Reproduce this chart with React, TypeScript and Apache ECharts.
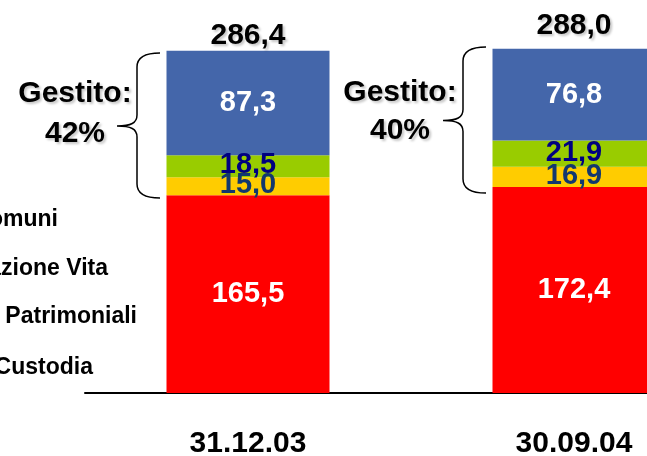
import React, { useEffect, useRef } from "react";
import * as echarts from "echarts";

// ---- data ----
const categories = ["31.12.03", "30.09.04"];
const custodia = [165.5, 172.4];
const gestioniPatrimoniali = [15.0, 16.9];
const assicurazioneVita = [18.5, 21.9];
const fondiComuni = [87.3, 76.8];
const totals = [286.4, 288.0];
const legendNames = ["Fondi Comuni", "Assicurazione Vita", "Gestioni Patrimoniali", "Custodia"];
const gestitoLabel = "Gestito:";
const gestitoPercent = ["42%", "40%"];

const FONT = "'Liberation Sans', Arial, Helvetica, sans-serif";
const fmt = (v: number) => v.toFixed(1).replace(".", ",");

const BRACE =
  "M 43 0 C 28 0 20 4 20 14 L 20 62 C 20 70 14 73 0 73 C 14 73 20 76 20 84 L 20 131 C 20 141 28 145 43 145";
let registered = false;
function registerBrace() {
  if (registered) return;
  echarts.graphic.registerShape("brace", echarts.graphic.extendPath(BRACE, {}) as any);
  registered = true;
}

const shadow = {
  textShadowColor: "rgba(0,0,0,0.22)",
  textShadowBlur: 2,
  textShadowOffsetX: 2,
  textShadowOffsetY: 2,
};

function barSeries(name: string, data: number[], color: string, labelColor: string, offset: number[]) {
  return {
    type: "bar",
    name,
    stack: "total",
    data,
    barWidth: "50%",
    itemStyle: { color },
    silent: true,
    label: {
      show: true,
      position: "inside",
      color: labelColor,
      fontSize: 29,
      fontWeight: "bold",
      fontFamily: FONT,
      offset,
      formatter: (p: any) => fmt(p.value),
    },
  };
}

export default function App() {
  const ref = useRef<HTMLDivElement>(null);
  useEffect(() => {
    if (!ref.current) return;
    registerBrace();
    const chart = echarts.init(ref.current, undefined, { renderer: "svg" });

    const gestitoText = (x: number, y1: number, y2: number, pct: string) => [
      {
        type: "text",
        x,
        y: y1,
        style: { text: gestitoLabel, align: "center", verticalAlign: "middle", fill: "#000", font: `bold 30px ${FONT}`, ...shadow },
      },
      {
        type: "text",
        x,
        y: y2,
        style: { text: pct, align: "center", verticalAlign: "middle", fill: "#000", font: `bold 30px ${FONT}`, ...shadow },
      },
    ];

    const legendRight = [58, 108, 137, 93];
    const legendY = [218, 267, 315, 366];

    chart.setOption({
      animation: false,
      grid: { left: 85, right: 3, top: 34.5, bottom: 58.5 },
      xAxis: {
        type: "category",
        data: categories,
        axisLine: { lineStyle: { color: "#000", width: 2 } },
        axisTick: { show: false },
        axisLabel: { fontSize: 30, fontWeight: "bold", color: "#000", fontFamily: FONT, margin: 33 },
      },
      yAxis: { type: "value", min: 0, max: 300, show: false },
      series: [
        barSeries("Custodia", custodia, "#FF0000", "#FFFFFF", [0, -2]),
        barSeries("Gestioni Patrimoniali", gestioniPatrimoniali, "#FFCC00", "#12386E", [0, -3]),
        barSeries("Assicurazione Vita", assicurazioneVita, "#99CC00", "#000080", [0, -3]),
        barSeries("Fondi Comuni", fondiComuni, "#4466AA", "#FFFFFF", [0, -2]),
        {
          type: "bar",
          name: "Totale",
          stack: "total",
          barWidth: "50%",
          data: totals.map((v, i) => ({ value: 0, label: i === 1 ? { offset: [0, -8] } : {} })),
          itemStyle: { color: "rgba(0,0,0,0)" },
          silent: true,
          label: {
            show: true,
            position: "top",
            distance: 2,
            color: "#000000",
            fontSize: 30,
            fontWeight: "bold",
            fontFamily: FONT,
            formatter: (p: any) => fmt(totals[p.dataIndex]),
            ...shadow,
          },
        },
      ],
      graphic: [
        { type: "brace", x: 117, y: 53, style: { stroke: "#000", fill: "none", lineWidth: 1.5 } },
        { type: "brace", x: 443, y: 47, scaleY: 146 / 145, style: { stroke: "#000", fill: "none", lineWidth: 1.5 } },
        ...gestitoText(75, 91, 131, gestitoPercent[0]),
        ...gestitoText(400, 90, 128, gestitoPercent[1]),
        ...legendNames.map((n, i) => ({
          type: "text",
          x: legendRight[i],
          y: legendY[i],
          style: { text: n, align: "right", verticalAlign: "middle", fill: "#000", font: `bold 23px ${FONT}` },
        })),
      ],
    });
    return () => chart.dispose();
  }, []);
  return (
    <div style={{ position: "fixed", left: 0, top: 0, width: 647, height: 456, overflow: "hidden" }}>
      <div ref={ref} style={{ width: 740, height: 456 }} />
    </div>
  );
}
